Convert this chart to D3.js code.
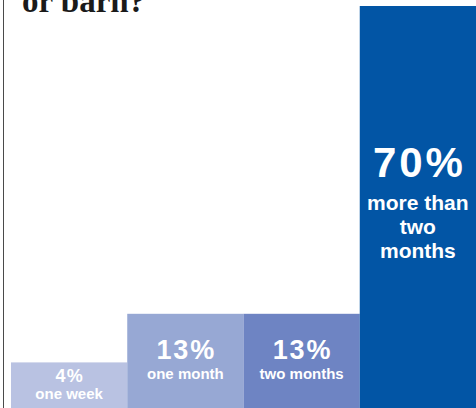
<!DOCTYPE html>
<html>
<head>
<meta charset="utf-8">
<script src="https://cdn.jsdelivr.net/npm/d3@7"></script>
<style>
  html, body { margin: 0; padding: 0; background: #ffffff; }
  svg { display: block; }
</style>
</head>
<body>
<script>
// How long the stored items stayed put: share of answers per duration
const categories = ["one week", "one month", "two months", "more than two months"];
const shares = [4, 13, 13, 70];
const labelLines = [["one week"], ["one month"], ["two months"], ["more than", "two", "months"]];
const titleText = "or barn?";

// Presentation
const fills = ["#b9c2e2", "#97a8d4", "#6e84c3", "#0255a5"];
const pctSize = [18, 27, 27, 42];
const subSize = [15, 15, 15, 21];
const pctOffset = [-3.5, -2, -2, -30];   // percent baseline relative to visible bar centre
const subOffset = [14, 18, 18, 3];       // first caption baseline relative to visible bar centre
const subLead = 24;

const W = 476, H = 408;

const svg = d3.select("body").append("svg")
  .attr("width", W)
  .attr("height", H);

const x = d3.scaleBand().domain(categories).range([11, 476]).padding(0);
const y = d3.scaleLinear().domain([0, 70]).range([384, 6]);

// frame rule on the left
svg.append("line")
  .attr("x1", 3.5).attr("x2", 3.5)
  .attr("y1", 0).attr("y2", H)
  .attr("stroke", "#4a4a4a")
  .attr("stroke-width", 1);

// title fragment
svg.append("text")
  .attr("x", 22)
  .attr("y", 12)
  .attr("font-family", "'Liberation Serif', 'Times New Roman', serif")
  .attr("font-weight", "bold")
  .attr("font-size", 33)
  .attr("fill", "#1a1a1a")
  .text(titleText);

const data = categories.map((c, i) => ({ c, v: shares[i], i }));

// bars run from the value down to the bottom edge
svg.append("g").selectAll("rect")
  .data(data)
  .join("rect")
  .attr("x", d => x(d.c))
  .attr("y", d => y(d.v))
  .attr("width", x.bandwidth())
  .attr("height", d => H - y(d.v))
  .attr("fill", d => fills[d.i]);

const labels = svg.append("g")
  .attr("font-family", "'Liberation Sans', Arial, Helvetica, sans-serif")
  .attr("font-weight", "bold")
  .attr("fill", "#ffffff")
  .attr("text-anchor", "middle");

data.forEach(d => {
  const cx = x(d.c) + x.bandwidth() / 2;
  const cy = (y(d.v) + H) / 2;
  const ls = pctSize[d.i] * 0.07;
  labels.append("text")
    .attr("x", cx + ls / 2)
    .attr("y", cy + pctOffset[d.i])
    .attr("font-size", pctSize[d.i])
    .attr("letter-spacing", ls)
    .text(d.v + "%");
  labelLines[d.i].forEach((line, k) => {
    labels.append("text")
      .attr("x", cx)
      .attr("y", cy + subOffset[d.i] + k * subLead)
      .attr("font-size", subSize[d.i])
      .text(line);
  });
});
</script>
</body>
</html>
